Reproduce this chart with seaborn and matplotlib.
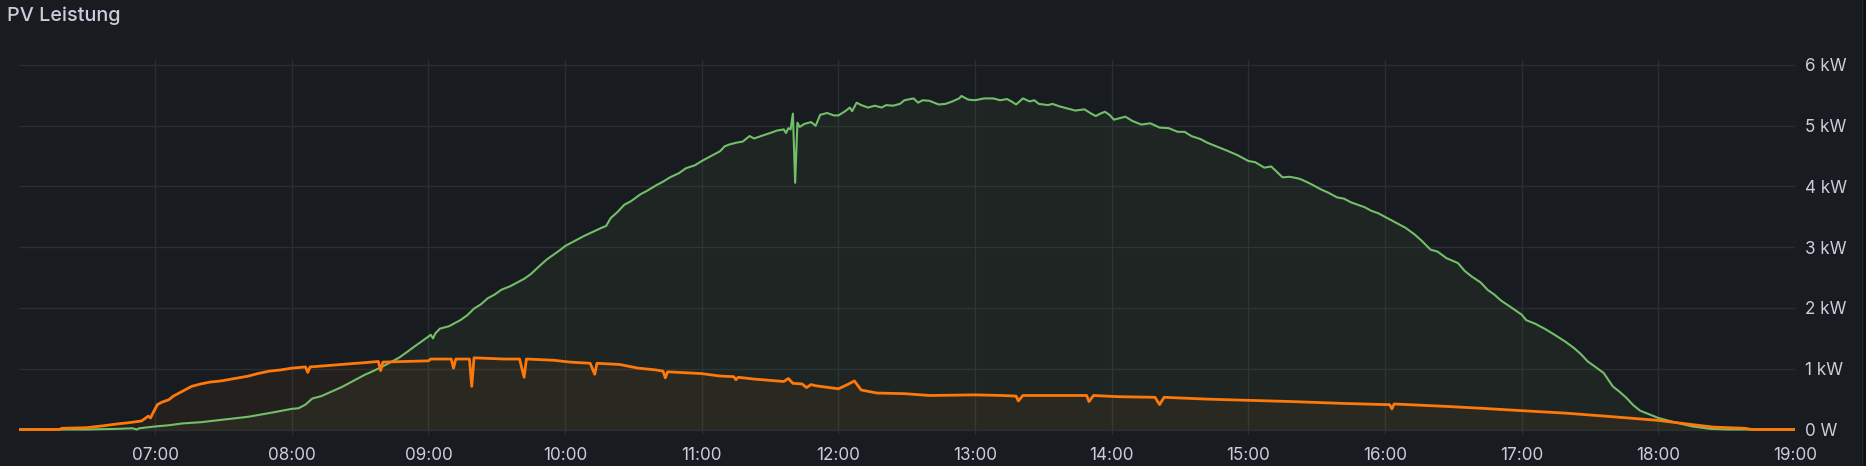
import matplotlib
matplotlib.use("Agg")
import matplotlib.pyplot as plt
from matplotlib.patches import Rectangle
import seaborn as sns
import pandas as pd

# ---------------- data ----------------
green_time = [
    "06:00", "06:30", "06:43", "06:50", "06:52", "06:53", "07:00", "07:06", "07:12", "07:20",
    "07:27", "07:34", "07:41", "07:47", "07:53", "08:00", "08:03", "08:06", "08:09", "08:11",
    "08:13", "08:16", "08:19", "08:22", "08:25", "08:28", "08:32", "08:35", "08:39", "08:43",
    "08:47", "08:50", "08:54", "08:57", "09:00", "09:01", "09:02", "09:03", "09:05", "09:09",
    "09:12", "09:14", "09:17", "09:20", "09:23", "09:26", "09:29", "09:32", "09:36", "09:39",
    "09:42", "09:45", "09:49", "09:52", "09:55", "09:58", "10:00", "10:04", "10:08", "10:12",
    "10:16", "10:18", "10:20", "10:23", "10:26", "10:29", "10:33", "10:36", "10:40", "10:43",
    "10:46", "10:50", "10:53", "10:57", "11:00", "11:04", "11:08", "11:10", "11:12", "11:15",
    "11:18", "11:21", "11:23", "11:26", "11:30", "11:33", "11:36", "11:37", "11:38", "11:39",
    "11:40", "11:41", "11:42", "11:43", "11:45", "11:48", "11:50", "11:52", "11:55", "11:58",
    "12:00", "12:03", "12:05", "12:06", "12:08", "12:10", "12:13", "12:16", "12:19", "12:21",
    "12:24", "12:27", "12:29", "12:33", "12:35", "12:37", "12:40", "12:44", "12:47", "12:50",
    "12:53", "12:54", "12:57", "13:00", "13:04", "13:08", "13:11", "13:14", "13:16", "13:18",
    "13:21", "13:24", "13:26", "13:28", "13:32", "13:34", "13:37", "13:41", "13:44", "13:48",
    "13:51", "13:53", "13:55", "13:57", "13:59", "14:01", "14:04", "14:06", "14:09", "14:13",
    "14:17", "14:21", "14:25", "14:29", "14:32", "14:35", "14:39", "14:42", "14:46", "14:50",
    "14:55", "15:00", "15:03", "15:07", "15:10", "15:12", "15:15", "15:18", "15:21", "15:23",
    "15:27", "15:32", "15:35", "15:39", "15:42", "15:45", "15:48", "15:51", "15:54", "15:57",
    "16:00", "16:05", "16:09", "16:13", "16:16", "16:20", "16:23", "16:27", "16:32", "16:35",
    "16:38", "16:42", "16:45", "16:48", "16:51", "16:55", "17:00", "17:02", "17:06", "17:10",
    "17:14", "17:19", "17:23", "17:26", "17:29", "17:32", "17:36", "17:40", "17:43", "17:46",
    "17:49", "17:52", "17:56", "18:00", "18:07", "18:15", "18:23", "18:30", "19:00",
]
green_kw = [
    0.00, 0.00, 0.01, 0.02, 0.00, 0.02, 0.05, 0.07, 0.10, 0.12,
    0.15, 0.18, 0.21, 0.25, 0.29, 0.34, 0.35, 0.41, 0.51, 0.53,
    0.55, 0.60, 0.65, 0.70, 0.76, 0.82, 0.90, 0.95, 1.02, 1.10,
    1.18, 1.26, 1.37, 1.45, 1.53, 1.56, 1.50, 1.58, 1.66, 1.70,
    1.76, 1.80, 1.88, 1.99, 2.06, 2.16, 2.22, 2.30, 2.36, 2.42,
    2.48, 2.56, 2.70, 2.80, 2.88, 2.96, 3.02, 3.10, 3.18, 3.25,
    3.32, 3.35, 3.48, 3.58, 3.70, 3.76, 3.87, 3.93, 4.02, 4.08,
    4.15, 4.22, 4.30, 4.35, 4.42, 4.50, 4.58, 4.66, 4.69, 4.72,
    4.74, 4.83, 4.79, 4.83, 4.88, 4.92, 4.94, 4.88, 4.96, 4.94,
    5.20, 4.06, 5.05, 4.98, 5.03, 5.06, 5.00, 5.18, 5.21, 5.17,
    5.17, 5.24, 5.30, 5.24, 5.38, 5.34, 5.30, 5.33, 5.30, 5.34,
    5.33, 5.36, 5.42, 5.45, 5.38, 5.42, 5.41, 5.35, 5.36, 5.40,
    5.45, 5.49, 5.43, 5.42, 5.45, 5.45, 5.42, 5.44, 5.40, 5.35,
    5.45, 5.40, 5.42, 5.36, 5.34, 5.36, 5.32, 5.28, 5.25, 5.27,
    5.20, 5.16, 5.20, 5.23, 5.18, 5.10, 5.13, 5.15, 5.08, 5.02,
    5.04, 4.97, 4.96, 4.90, 4.90, 4.83, 4.78, 4.72, 4.66, 4.60,
    4.52, 4.42, 4.40, 4.31, 4.33, 4.26, 4.15, 4.16, 4.14, 4.12,
    4.05, 3.95, 3.90, 3.82, 3.80, 3.74, 3.70, 3.66, 3.60, 3.56,
    3.50, 3.40, 3.32, 3.21, 3.11, 2.96, 2.93, 2.82, 2.74, 2.61,
    2.52, 2.42, 2.30, 2.22, 2.12, 2.02, 1.89, 1.80, 1.74, 1.66,
    1.57, 1.45, 1.34, 1.24, 1.12, 1.04, 0.93, 0.71, 0.62, 0.52,
    0.40, 0.31, 0.25, 0.19, 0.12, 0.05, 0.01, 0.00, 0.00,
]

orange_time = [
    "06:00", "06:18", "06:19", "06:30", "06:37", "06:43", "06:48", "06:54", "06:57", "06:58",
    "06:59", "07:01", "07:03", "07:06", "07:08", "07:10", "07:13", "07:16", "07:20", "07:24",
    "07:29", "07:35", "07:41", "07:45", "07:50", "07:55", "08:00", "08:06", "08:07", "08:08",
    "08:15", "08:25", "08:32", "08:38", "08:39", "08:40", "08:50", "09:00", "09:01", "09:10",
    "09:11", "09:12", "09:18", "09:19", "09:20", "09:33", "09:40", "09:42", "09:43", "09:55",
    "10:02", "10:11", "10:13", "10:14", "10:24", "10:32", "10:40", "10:43", "10:44", "10:45",
    "11:00", "11:08", "11:14", "11:15", "11:16", "11:23", "11:36", "11:38", "11:40", "11:44",
    "11:46", "11:48", "11:50", "11:54", "12:00", "12:04", "12:07", "12:10", "12:17", "12:29",
    "12:40", "13:00", "13:12", "13:18", "13:19", "13:21", "13:43", "13:49", "13:50", "13:52",
    "14:03", "14:19", "14:21", "14:23", "14:42", "15:00", "15:19", "15:41", "16:00", "16:02",
    "16:03", "16:04", "16:27", "16:42", "17:00", "17:19", "17:40", "18:00", "18:15", "18:24",
    "18:38", "18:41", "19:00",
]
orange_kw = [
    0.00, 0.00, 0.02, 0.03, 0.06, 0.09, 0.11, 0.14, 0.22, 0.19,
    0.27, 0.41, 0.45, 0.49, 0.55, 0.59, 0.65, 0.71, 0.75, 0.78,
    0.80, 0.84, 0.88, 0.92, 0.96, 0.98, 1.01, 1.03, 0.94, 1.03,
    1.05, 1.08, 1.10, 1.12, 0.97, 1.11, 1.12, 1.13, 1.16, 1.16,
    1.01, 1.16, 1.16, 0.71, 1.18, 1.16, 1.16, 0.86, 1.16, 1.14,
    1.11, 1.09, 0.91, 1.09, 1.07, 1.01, 0.98, 0.96, 0.85, 0.95,
    0.92, 0.88, 0.87, 0.82, 0.86, 0.83, 0.79, 0.84, 0.76, 0.75,
    0.69, 0.74, 0.72, 0.70, 0.67, 0.74, 0.80, 0.65, 0.60, 0.59,
    0.56, 0.57, 0.56, 0.55, 0.47, 0.56, 0.56, 0.56, 0.46, 0.56,
    0.54, 0.53, 0.41, 0.53, 0.50, 0.48, 0.46, 0.43, 0.41, 0.41,
    0.34, 0.42, 0.38, 0.35, 0.31, 0.27, 0.21, 0.15, 0.08, 0.04,
    0.02, 0.00, 0.00,
]

y_ticks = [0, 1, 2, 3, 4, 5, 6]
y_labels = ["0 W", "1 kW", "2 kW", "3 kW", "4 kW", "5 kW", "6 kW"]
x_ticks = ["07:00", "08:00", "09:00", "10:00", "11:00", "12:00", "13:00",
           "14:00", "15:00", "16:00", "17:00", "18:00", "19:00"]
title = "PV Leistung"
day = "2024-06-01 "

# ---------------- style ----------------
BG = "#181b1f"
TXT = "#ccccdc"
GRID = "#2a2d32"
GREEN = "#73bf69"
ORANGE = "#ff780a"

sns.set_theme(style="dark")
plt.rcParams["font.family"] = ["Inter", "DejaVu Sans"]

gdf = pd.DataFrame({"t": pd.to_datetime([day + t for t in green_time]), "kw": green_kw})
odf = pd.DataFrame({"t": pd.to_datetime([day + t for t in orange_time]), "kw": orange_kw})

fig = plt.figure(figsize=(18.66, 4.66), dpi=100, facecolor=BG)
W, H = 1866.0, 466.0
left, right = 18.5, 1795.0
top, bottom = 60.0, 435.0
ax = fig.add_axes([left / W, 1 - bottom / H, (right - left) / W, (bottom - top) / H])
ax.set_facecolor(BG)

# fills
ax.fill_between(gdf["t"], 0, gdf["kw"], color=GREEN, alpha=0.065, linewidth=0, zorder=1)
ax.fill_between(odf["t"], 0, odf["kw"], color=ORANGE, alpha=0.055, linewidth=0, zorder=1)

sns.lineplot(data=gdf, x="t", y="kw", ax=ax, color=GREEN, linewidth=1.5, zorder=3)
sns.lineplot(data=odf, x="t", y="kw", ax=ax, color=ORANGE, linewidth=2.0, zorder=4)

# y: 0 at px 429.5, 6 at px 65
kpx = (429.5 - 65.0) / 6.0
ax.set_ylim(-(bottom - 429.5) / kpx, 6 + (65.0 - top) / kpx)
ax.set_xlim(pd.Timestamp(day + "06:00"), pd.Timestamp(day + "19:00"))

ax.set_yticks(y_ticks)
ax.set_yticklabels(y_labels)
ax.yaxis.tick_right()
ax.set_xticks(pd.to_datetime([day + t for t in x_ticks]))
ax.set_xticklabels(x_ticks)

ax.tick_params(axis="both", length=0, colors=TXT, labelsize=12.3)
ax.tick_params(axis="y", pad=7)
ax.tick_params(axis="x", pad=9)
ax.set_xlabel("")
ax.set_ylabel("")
ax.grid(True, color=GRID, linewidth=1.0, zorder=0)
for s in ax.spines.values():
    s.set_visible(False)

fig.text(7 / W, 1 - 16 / H, title, color=TXT, fontsize=14.3, fontweight="medium",
         ha="left", va="center")

# panel border on right
fig.patches.append(Rectangle((1861 / W, 0), 5 / W, 1, transform=fig.transFigure,
                             facecolor="#111217", edgecolor="none", zorder=0))
fig.add_artist(plt.Line2D([1861.5 / W, 1861.5 / W], [0, 1], transform=fig.transFigure,
                          color="#25282c", linewidth=1.0))

fig.savefig("out.png", dpi=100, facecolor=BG)
